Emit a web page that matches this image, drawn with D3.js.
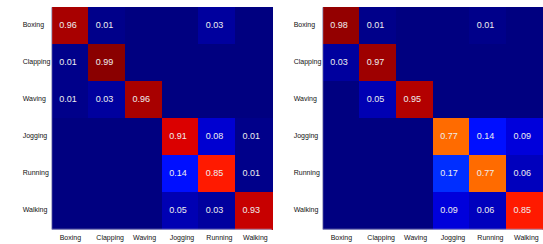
<!DOCTYPE html>
<html>
<head>
  <script src="https://d3js.org/d3.v7.min.js"></script>
  <style>
    body { margin: 0; background: #fff; }
    text { font-family: "Liberation Sans", Arial, sans-serif; }
  </style>
</head>
<body>
<script>
  var classes = ["Boxing", "Clapping", "Waving", "Jogging", "Running", "Walking"]

  // row = true class, columns = predicted
  var matrixLeft = [
    [0.96, 0.01, 0, 0, 0.03, 0],
    [0.01, 0.99, 0, 0, 0, 0],
    [0.01, 0.03, 0.96, 0, 0, 0],
    [0, 0, 0, 0.91, 0.08, 0.01],
    [0, 0, 0, 0.14, 0.85, 0.01],
    [0, 0, 0, 0.05, 0.03, 0.93]
  ]
  var matrixRight = [
    [0.98, 0.01, 0, 0, 0.01, 0],
    [0.03, 0.97, 0, 0, 0, 0],
    [0, 0.05, 0.95, 0, 0, 0],
    [0, 0, 0, 0.77, 0.14, 0.09],
    [0, 0, 0, 0.17, 0.77, 0.06],
    [0, 0, 0, 0.09, 0.06, 0.85]
  ]

  // matlab style jet colormap
  function jet(v) {
    var c = x => Math.max(0, Math.min(1, x))
    var r = c(1.5 - Math.abs(4 * v - 3))
    var g = c(1.5 - Math.abs(4 * v - 2))
    var b = c(1.5 - Math.abs(4 * v - 1))
    return d3.rgb(r * 255, g * 255, b * 255)
  }

  var svg = d3.select("body").append("svg").attr("width", 543).attr("height", 244)

  function drawMatrix(mat, left) {
    var top = 7.3, size = 220, h = 222
    var x = d3.scaleBand().domain(d3.range(6)).range([0, size])
    var y = d3.scaleBand().domain(d3.range(6)).range([0, h])
    var g = svg.append("g").attr("transform", `translate(${left}, ${top})`)

    var cells = []
    mat.forEach((row, i) => row.forEach((v, j) => cells.push({ i, j, v })))

    g.selectAll("rect.cell").data(cells).enter().append("rect")
      .attr("class", "cell")
      .attr("x", d => x(d.j))
      .attr("y", d => y(d.i))
      .attr("width", x.bandwidth() + 1)
      .attr("height", y.bandwidth() + 1)
      .attr("shape-rendering", "crispEdges")
      .attr("fill", d => jet(d.v))

    g.selectAll("text.val").data(cells.filter(d => d.v > 0)).enter().append("text")
      .attr("class", "val")
      .attr("x", d => x(d.j) + 7.5)
      .attr("y", d => y(d.i) + y.bandwidth() / 2 - 1)
      .attr("dy", "0.35em")
      .attr("font-size", 9)
      .attr("fill", "#eeeeee")
      .text(d => d.v.toFixed(2))

    // axis lines
    g.append("line").attr("x1", 0).attr("x2", 0).attr("y1", 0).attr("y2", h)
      .attr("stroke", "#a8a8c8").attr("stroke-width", 1)
    g.append("line").attr("x1", 0).attr("x2", size).attr("y1", h).attr("y2", h)
      .attr("stroke", "#a8a8c8").attr("stroke-width", 1)

    g.selectAll("text.ylab").data(classes).enter().append("text")
      .attr("class", "ylab")
      .attr("x", -29)
      .attr("y", (d, i) => y(i) + y.bandwidth() / 2 - 1)
      .attr("dy", "0.35em")
      .attr("font-size", 7)
      .attr("fill", "#111")
      .text(d => d)

    g.selectAll("text.xlab").data(classes).enter().append("text")
      .attr("class", "xlab")
      .attr("x", (d, i) => x(i) + 8)
      .attr("y", h + 8.5)
      .attr("dy", "0.35em")
      .attr("font-size", 7)
      .attr("fill", "#111")
      .text(d => d)
  }

  drawMatrix(matrixLeft, 51.7)
  drawMatrix(matrixRight, 322.7)
</script>
</body>
</html>
